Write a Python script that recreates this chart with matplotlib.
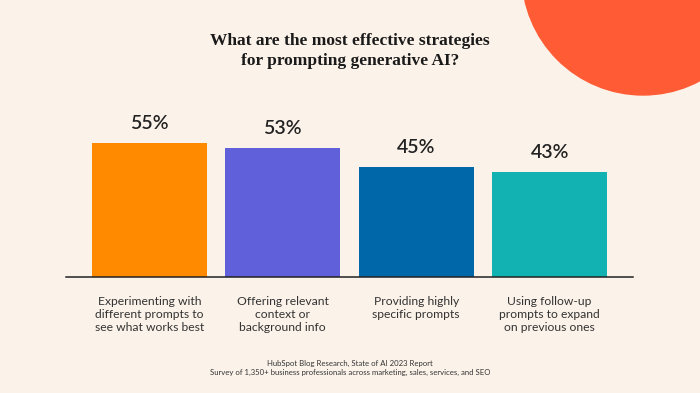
import matplotlib.pyplot as plt
from matplotlib.patches import Ellipse

# data
categories = [
    "Experimenting with\ndifferent prompts to\nsee what works best",
    "Offering relevant\ncontext or\nbackground info",
    "Providing highly\nspecific prompts",
    "Using follow-up\nprompts to expand\non previous ones",
]
values = [55, 53, 45, 43]
colors = ["#FF8A00", "#6060DB", "#0067A9", "#12B2B2"]

title = "What are the most effective strategies\nfor prompting generative AI?"
source = "HubSpot Blog Research, State of AI 2023 Report"
note = "Survey of 1,350+ business professionals across marketing, sales, services, and SEO"

BG = "#FBF2E9"
W, H = 700, 393

fig = plt.figure(figsize=(W / 100, H / 100), dpi=100)
fig.patch.set_facecolor(BG)

# decorative circle in the top right corner
fig.patches.append(Ellipse((643 / W, 1 + 26 / H), 242 / W, 242 / H,
                           transform=fig.transFigure, color="#FF5C35", zorder=0))

ax = fig.add_axes([66 / W, 1 - 277 / H, (633 - 66) / W, (277 - 100) / H])
ax.set_facecolor("none")

x = range(len(values))
ax.bar(x, values, width=0.865, color=colors, zorder=2)
ax.set_xlim(-0.625, 3.625)
ax.set_ylim(0, 177 / 2.436)

for i, v in zip(x, values):
    ax.annotate(f"{v}%", (i, v), xytext=(0, 10), textcoords="offset points",
                ha="center", va="baseline", fontsize=14, fontweight="semibold",
                family="Lato", color="#222222")

for s in ["top", "right", "left"]:
    ax.spines[s].set_visible(False)
ax.spines["bottom"].set_color("#222222")
ax.spines["bottom"].set_linewidth(1.1)
ax.spines["bottom"].set_zorder(3)
ax.set_yticks([])
ax.set_xticks(list(x))
ax.set_xticklabels(categories, fontsize=8.7, family="Lato", color="#333333",
                   linespacing=1.22)
ax.tick_params(axis="x", length=0, pad=14)

fig.text(0.5, 1 - 51 / H, title, ha="center", va="center", fontsize=12.5,
         family="Liberation Serif", fontweight="bold", color="#1A1A1A",
         linespacing=1.35)
fig.text(0.5, 1 - 363 / H, source, ha="center", va="center", fontsize=5.6,
         family="Lato", color="#333333")
fig.text(0.5, 1 - 372 / H, note, ha="center", va="center", fontsize=5.6,
         family="Lato", color="#333333")

fig.savefig("out.png", dpi=100, facecolor=BG)
